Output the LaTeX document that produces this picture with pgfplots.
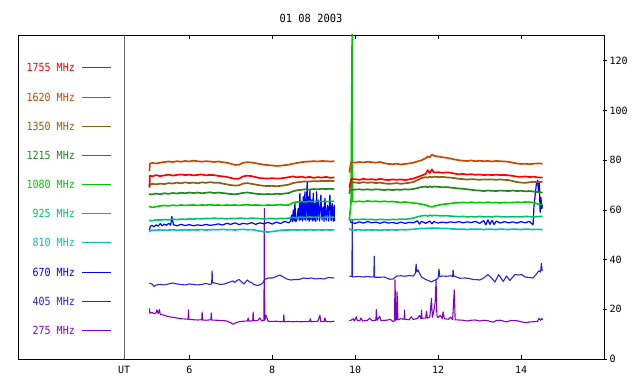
\documentclass[border=0pt]{standalone}
\usepackage{fontspec}
\setmainfont{DejaVu Sans Mono}
\usepackage{pgfplots}
\usepackage{pgfplotstable}
\pgfplotsset{compat=1.18}
\definecolor{c1755}{RGB}{255,0,0}
\definecolor{c1620}{RGB}{200,72,0}
\definecolor{c1350}{RGB}{136,96,16}
\definecolor{c1215}{RGB}{32,136,32}
\definecolor{c1080}{RGB}{0,200,0}
\definecolor{c925}{RGB}{0,192,112}
\definecolor{c810}{RGB}{0,192,192}
\definecolor{c670}{RGB}{0,0,255}
\definecolor{c405}{RGB}{40,40,200}
\definecolor{c275}{RGB}{128,0,200}
\definecolor{divg}{RGB}{100,100,100}

\pgfplotstableread{
t r o b dg g tl cy
5.04 69.0 75.5 69.5 66.0 61.0 55.5 51.0
5.05 73.8 78.6 70.2 66.4 61.4 55.8 51.6
5.1 73.5 78.9 70.5 66.2 61.0 55.6 51.9
5.2 74.0 78.7 70.3 66.6 61.3 56.0 51.8
5.3 73.6 79.0 70.6 66.3 61.6 55.9 52.0
5.4 73.9 79.3 70.4 66.7 61.8 56.1 51.8
5.5 74.2 79.5 70.8 66.5 61.6 56.0 51.9
5.6 73.8 79.3 70.6 66.8 61.9 56.3 52.0
5.7 74.1 79.6 71.0 66.6 61.7 56.1 51.8
5.8 74.3 79.4 70.7 66.9 62.0 56.3 51.9
5.9 74.0 79.7 71.1 66.7 61.8 56.2 52.0
6.0 74.2 79.5 70.8 67.0 61.9 56.4 51.9
6.1 73.9 79.8 71.0 66.8 62.0 56.3 52.0
6.2 74.1 79.6 70.7 67.0 61.8 56.5 51.9
6.3 74.3 79.4 71.1 66.7 62.0 56.4 52.1
6.4 73.9 79.6 70.9 66.9 61.9 56.6 51.9
6.5 74.1 79.5 71.2 67.1 62.1 56.5 52.0
6.6 74.0 79.3 70.9 66.8 61.9 56.7 52.1
6.7 73.7 79.5 71.0 67.0 62.0 56.5 52.0
6.8 73.5 79.2 70.6 66.8 61.8 56.6 52.2
6.9 73.3 79.0 70.3 66.6 62.0 56.4 52.0
7.0 72.9 78.6 70.0 66.4 61.9 56.6 52.1
7.1 72.5 78.1 69.8 66.3 62.0 56.5 51.9
7.2 72.6 78.2 69.9 66.5 61.8 56.7 52.1
7.3 73.5 79.0 70.6 66.9 62.0 56.6 52.2
7.4 73.8 79.2 70.8 67.0 62.1 56.5 52.0
7.5 73.6 79.1 70.5 66.8 61.9 56.7 52.1
7.6 73.2 78.8 70.2 66.5 62.0 56.6 51.8
7.7 72.8 78.5 69.9 66.4 61.9 56.5 51.5
7.8 72.7 78.2 69.7 66.3 61.8 56.4 51.2
7.9 72.6 78.0 69.6 66.4 62.0 56.5 51.1
8.0 72.8 77.9 69.7 66.3 61.9 56.6 51.3
8.1 72.6 77.7 69.5 66.5 62.0 56.4 51.5
8.2 72.7 77.8 69.7 66.4 62.1 56.6 51.8
8.3 72.9 78.0 69.9 66.6 61.9 56.5 51.9
8.4 73.2 78.2 70.2 66.8 62.0 56.7 51.9
8.5 73.5 78.6 70.8 67.5 62.9 57.0 52.0
8.6 73.1 78.9 71.1 67.9 63.2 56.8 51.9
8.7 73.4 79.2 71.3 68.1 63.4 57.1 52.0
8.8 73.0 79.4 71.5 68.3 63.2 56.9 51.9
8.9 73.3 79.5 71.4 68.2 63.5 57.2 52.0
9.0 72.9 79.6 71.6 68.4 63.3 57.0 51.9
9.1 73.2 79.5 71.5 68.3 63.5 57.1 52.0
9.2 73.0 79.7 71.7 68.5 63.4 56.9 51.9
9.3 73.3 79.6 71.6 68.4 63.3 57.1 52.0
9.4 72.9 79.5 71.7 68.5 63.5 57.0 51.9
9.5 73.1 79.6 71.6 68.3 63.4 57.1 52.0
9.7 nan nan nan nan nan nan nan
9.86 69.0 75.0 66.5 67.5 56.0 55.8 52.6
9.9 72.3 79.2 71.0 68.1 63.0 56.1 51.9
9.93 72.5 79.1 71.2 68.3 140 56.2 52.0
9.935 72.4 79.2 71.0 68.1 63.4 56.0 51.8
10.0 72.4 79.0 71.1 68.2 63.3 56.2 51.9
10.1 72.1 79.3 70.8 68.3 63.5 56.1 52.0
10.2 72.5 79.1 71.2 68.1 63.3 56.3 51.8
10.3 72.2 79.4 70.9 68.3 63.6 56.1 52.0
10.4 72.4 79.2 71.1 68.1 63.4 56.2 51.9
10.5 72.1 79.0 70.8 68.3 63.5 56.0 52.0
10.6 72.5 79.3 71.0 68.2 63.3 56.2 51.8
10.7 72.2 78.8 70.7 68.0 63.5 56.1 52.0
10.8 72.0 78.5 70.5 68.2 63.3 56.0 51.9
10.9 72.3 78.4 70.6 68.0 63.4 56.2 52.0
11.0 72.1 78.6 70.8 68.2 63.2 56.1 51.9
11.1 72.3 78.3 70.5 68.1 63.0 56.3 52.1
11.2 72.0 78.5 70.7 68.3 63.2 56.2 52.0
11.3 72.3 78.7 70.9 68.2 63.0 56.4 52.1
11.4 72.6 79.0 71.2 68.4 62.8 56.7 52.2
11.5 73.2 79.5 72.0 68.8 62.6 57.2 52.4
11.6 73.8 80.0 72.8 69.2 62.3 57.6 52.6
11.7 74.5 80.8 73.2 69.4 62.0 57.8 52.5
11.75 76.0 81.5 73.0 69.1 61.6 57.5 52.7
11.8 74.8 81.2 73.4 69.5 61.4 57.9 52.5
11.85 76.3 82.3 73.1 69.2 61.2 57.6 52.8
11.9 75.0 81.8 73.4 69.4 61.5 57.8 52.6
12.0 75.2 81.5 73.2 69.3 61.9 57.7 52.7
12.1 74.9 81.2 73.3 69.1 62.2 57.6 52.5
12.2 75.1 81.0 73.1 69.2 62.4 57.7 52.6
12.3 75.0 80.7 73.0 69.0 62.6 57.5 52.4
12.4 74.6 80.3 72.8 68.8 62.8 57.4 52.3
12.5 74.3 80.0 72.5 68.6 62.9 57.3 52.2
12.6 74.5 79.8 72.4 68.5 63.0 57.4 52.3
12.7 74.2 79.7 72.2 68.3 62.9 57.2 52.1
12.8 74.4 79.9 72.4 68.1 63.1 57.3 52.3
12.9 74.1 79.6 72.3 67.9 62.9 57.2 52.2
13.0 74.3 79.8 72.1 67.8 63.0 57.4 52.3
13.1 74.0 79.6 72.3 67.6 62.9 57.2 52.1
13.2 74.2 79.7 72.2 67.8 63.1 57.3 52.3
13.3 74.0 79.5 72.3 67.7 62.9 57.2 52.2
13.4 74.2 79.7 72.1 67.6 63.0 57.4 52.1
13.5 74.0 79.6 72.3 67.8 62.8 57.3 52.3
13.6 74.1 79.5 72.1 67.7 63.0 57.2 52.2
13.7 73.9 79.4 72.0 67.6 62.9 57.3 52.1
13.8 73.7 79.0 71.6 67.8 63.0 57.2 52.3
13.9 73.4 78.7 71.2 67.6 63.1 57.3 52.2
14.0 73.3 78.5 71.0 67.7 63.0 57.2 52.1
14.1 73.5 78.6 70.9 67.5 63.2 57.4 52.3
14.2 73.2 78.4 71.1 67.6 63.1 57.3 52.2
14.3 73.4 78.6 71.3 67.4 63.0 57.2 52.1
14.4 73.1 78.7 71.2 67.2 62.4 57.3 52.2
14.52 73.0 78.6 71.3 67.0 62.0 57.4 52.1
}\upper

\pgfplotstableread{
t v
5.04 52.0
5.06 53.4
5.1 53.8
5.15 53.2
5.2 54.0
5.25 53.5
5.3 54.5
5.35 53.6
5.4 54.3
5.45 53.8
5.5 54.6
5.55 53.9
5.58 57.3
5.62 54.0
5.7 53.6
5.8 54.2
5.9 53.7
6.0 54.1
6.1 53.6
6.2 54.0
6.3 53.7
6.4 54.2
6.5 53.8
6.6 54.0
6.7 54.4
6.8 53.9
6.9 54.6
7.0 54.2
7.1 54.8
7.2 54.1
7.3 54.6
7.4 54.3
7.5 54.9
7.6 54.2
7.7 54.8
7.8 54.4
7.9 55.0
8.0 54.3
8.1 55.1
8.2 54.5
8.3 55.4
8.4 54.8
8.44 55.5
8.466 57.9
8.49 55.3
8.507 60.0
8.53 55.6
8.547 62.6
8.57 55.2
8.6 56.5
8.627 60.6
8.65 55.8
8.667 66.7
8.69 56.0
8.707 63.3
8.73 55.5
8.748 65.3
8.77 56.2
8.788 67.3
8.81 55.8
8.844 71.4
8.855 56.0
8.868 65.3
8.89 55.4
8.908 68.0
8.93 56.1
8.948 64.0
8.97 55.6
8.989 66.7
9.01 55.8
9.029 62.6
9.05 55.3
9.069 67.3
9.09 56.0
9.109 64.0
9.14 55.5
9.173 66.0
9.2 55.9
9.23 61.3
9.25 55.4
9.27 64.6
9.3 55.8
9.334 61.9
9.36 55.5
9.39 66.0
9.42 55.7
9.446 62.6
9.47 55.4
9.494 61.9
9.5 55.6
9.7 nan
9.86 56.5
9.9 55.0
10.0 54.6
10.1 55.2
10.2 54.7
10.3 55.3
10.4 54.8
10.5 55.1
10.6 54.6
10.7 55.2
10.8 54.7
10.9 55.0
11.0 54.5
11.1 55.1
11.2 54.6
11.3 55.0
11.4 54.8
11.5 55.6
11.55 54.3
11.6 55.4
11.7 54.6
11.8 55.5
11.85 54.4
11.9 55.3
12.0 54.7
12.1 55.1
12.2 54.8
12.3 55.2
12.4 54.9
12.5 55.3
12.6 54.8
12.7 55.2
12.8 54.9
12.9 55.4
13.0 54.6
13.1 55.7
13.15 54.0
13.2 56.0
13.25 54.2
13.3 55.8
13.35 54.1
13.4 55.5
13.5 54.7
13.6 55.3
13.7 54.8
13.8 55.2
13.9 54.7
14.0 55.3
14.1 54.8
14.2 55.4
14.25 54.6
14.29 54.0
14.31 61.3
14.34 66.0
14.37 70.5
14.4 72.0
14.42 67.5
14.44 70.8
14.46 59.0
14.48 65.0
14.5 60.5
14.52 62.0
}\sixseventy

\pgfplotstableread{
t v
5.04 30.5
5.1 30.2
5.15 29.2
5.2 29.8
5.3 30.0
5.4 29.8
5.5 30.2
5.6 30.6
5.7 30.2
5.8 30.0
5.9 29.8
6.0 30.2
6.1 30.0
6.2 29.8
6.3 30.0
6.4 30.4
6.5 30.0
6.54 30.3
6.55 35.5
6.56 30.8
6.65 30.4
6.75 30.0
6.85 30.2
6.95 30.8
7.05 31.4
7.1 30.8
7.15 31.6
7.2 32.0
7.25 31.2
7.32 30.2
7.4 31.8
7.45 31.0
7.5 30.8
7.55 30.0
7.65 29.6
7.72 30.0
7.78 30.8
7.82 32.0
7.9 32.6
8.0 32.6
8.1 33.2
8.18 33.8
8.25 33.2
8.35 32.2
8.45 31.8
8.55 32.0
8.65 32.0
8.75 32.6
8.85 32.4
8.95 32.6
9.05 32.2
9.15 32.4
9.25 32.2
9.35 32.8
9.5 32.6
9.7 nan
9.86 33.4
9.92 33.2
9.93 56.0
9.94 33.0
10.0 33.1
10.1 33.2
10.2 33.0
10.3 33.2
10.4 33.0
10.45 33.1
10.46 41.4
10.47 32.9
10.6 32.9
10.7 33.0
10.84 32.1
10.92 32.2
11.0 33.4
11.1 33.5
11.2 33.3
11.3 33.6
11.4 33.4
11.45 34.5
11.47 38.2
11.49 35.0
11.52 35.8
11.56 34.2
11.6 33.0
11.7 32.0
11.8 31.3
11.84 31.0
11.9 31.6
11.96 32.0
12.0 32.6
12.02 36.2
12.04 33.2
12.1 33.4
12.2 33.3
12.3 33.5
12.35 33.2
12.36 35.8
12.38 33.3
12.45 33.0
12.52 32.5
12.65 32.6
12.75 32.4
12.84 32.0
12.95 31.9
13.0 31.8
13.1 32.6
13.2 34.0
13.3 32.4
13.37 31.0
13.46 34.0
13.57 31.2
13.65 33.4
13.73 31.6
13.8 33.0
13.85 34.0
13.95 33.8
14.01 34.0
14.1 33.0
14.2 32.8
14.29 32.6
14.37 34.2
14.43 35.5
14.47 35.0
14.49 38.5
14.51 35.5
}\fourohfive

\pgfplotstableread{
t v
5.04 20.4
5.05 18.4
5.1 18.8
5.15 18.2
5.2 18.6
5.22 19.8
5.25 18.3
5.28 19.9
5.3 18.0
5.4 17.6
5.5 17.0
5.6 16.8
5.7 16.5
5.8 16.2
5.9 16.1
5.97 16.0
5.98 19.8
5.99 16.0
6.1 15.8
6.2 15.7
6.3 15.8
6.31 18.9
6.32 15.7
6.4 15.6
6.52 15.8
6.53 18.5
6.54 15.7
6.65 15.6
6.8 15.5
6.9 15.3
7.0 14.6
7.06 14.0
7.12 14.6
7.2 15.0
7.3 15.2
7.4 15.3
7.42 16.5
7.44 15.2
7.53 15.4
7.54 18.9
7.55 15.4
7.65 15.5
7.7 16.5
7.75 15.3
7.8 15.6
7.81 60.6
7.82 15.6
7.85 17.6
7.9 15.2
8.0 15.1
8.1 15.2
8.2 15.0
8.27 15.1
8.28 17.8
8.29 15.0
8.4 15.1
8.5 15.0
8.6 15.1
8.7 15.0
8.9 15.1
8.92 16.2
8.94 15.0
9.1 15.2
9.15 17.6
9.17 15.1
9.25 15.0
9.27 16.5
9.29 15.1
9.4 15.0
9.5 15.2
9.7 nan
9.86 15.4
9.9 15.6
9.95 16.2
9.98 15.3
10.03 17.0
10.05 15.4
10.12 15.6
10.14 16.5
10.18 15.3
10.3 15.6
10.35 16.4
10.4 15.5
10.5 15.6
10.51 19.9
10.53 15.6
10.59 17.2
10.62 15.5
10.75 15.6
10.85 15.9
10.92 15.0
10.95 15.5
10.96 31.8
10.98 15.6
11.0 16.0
11.01 27.1
11.03 15.8
11.1 16.2
11.18 16.0
11.19 19.7
11.2 16.0
11.3 15.8
11.35 17.0
11.4 15.9
11.5 16.3
11.55 17.5
11.59 16.2
11.6 19.7
11.61 16.4
11.7 16.5
11.72 19.2
11.74 16.4
11.8 17.0
11.84 24.4
11.86 16.8
11.9 19.5
11.93 23.0
11.95 31.8
11.97 17.5
12.0 16.6
12.05 17.6
12.1 16.3
12.12 19.0
12.15 16.2
12.25 16.0
12.3 16.8
12.35 15.9
12.39 27.8
12.41 15.8
12.5 15.7
12.6 15.6
12.7 15.3
12.8 15.6
12.9 15.7
13.0 15.3
13.1 15.6
13.2 15.4
13.33 14.8
13.4 15.5
13.5 15.6
13.65 14.9
13.75 15.5
13.9 15.4
14.0 15.0
14.13 14.6
14.2 14.9
14.3 15.0
14.4 15.2
14.43 16.3
14.47 15.6
14.5 16.3
14.52 15.8
}\twoseventyfive

\begin{document}
\begin{tikzpicture}[x=1bp,y=1bp,font=\fontsize{10bp}{12bp}\selectfont]
\path[use as bounding box] (0,0) rectangle (640,384);
\begin{axis}[
  at={(18bp,25bp)}, anchor=south west,
  scale only axis, width=586bp, height=324bp,
  xmin=1.87, xmax=16, ymin=0, ymax=130.4,
  axis line style={line width=0.8bp},
  unbounded coords=jump,
  xtick={6,8,10,12,14},
  ytick={0,20,40,60,80,100,120},
  xtick pos=both, ytick pos=right, yticklabel pos=right,
  tick align=inside, major tick length=4.5bp,
  ytick style={xshift=3bp},
  minor tick num=0,
  tick style={line width=0.8bp, black},
  /pgf/number format/assume math mode=true,
  tick label style={font=\fontsize{10bp}{12bp}\selectfont},
  xticklabel style={yshift=-4bp},
  yticklabel style={xshift=2bp},
  extra x ticks={4.43}, extra x tick labels={UT},
  extra x tick style={major tick length=0pt},
  every axis plot/.append style={line join=round},
]
\addplot[divg, line width=0.8bp] coordinates {(4.43,0) (4.43,130.4)};
\addplot[c275, line width=1.1bp] table[x=t,y=v] {\twoseventyfive};
\addplot[c405, line width=1.1bp] table[x=t,y=v] {\fourohfive};
\addplot[c670, line width=1.2bp] table[x=t,y=v] {\sixseventy};
\addplot[c810, line width=1.6bp] table[x=t,y=cy] {\upper};
\addplot[c925, line width=1.6bp] table[x=t,y=tl] {\upper};
\addplot[c1080, line width=1.6bp] table[x=t,y=g] {\upper};
\addplot[c1215, line width=1.7bp] table[x=t,y=dg] {\upper};
\addplot[c1350, line width=1.7bp] table[x=t,y=b] {\upper};
\addplot[c1620, line width=1.7bp] table[x=t,y=o] {\upper};
\addplot[c1755, line width=1.7bp] table[x=t,y=r] {\upper};
\end{axis}
\node at (311,366) {\scalebox{1.04}[1.12]{01 08 2003}};
\foreach \lab/\col/\yy in {1755/c1755/67.3, 1620/c1620/97.3, 1350/c1350/126.3, 1215/c1215/155.3, 1080/c1080/184.3, 925/c925/213.3, 810/c810/242.3, 670/c670/272, 405/c405/301.3, 275/c275/330.3}{
  \node[anchor=east, text=\col, inner sep=0pt] at (75,384-\yy) {\scalebox{1}[1.12]{\lab\ MHz}};
  \draw[\col, line width=1bp] (82,384-\yy) -- (110.7,384-\yy);
}
\end{tikzpicture}
\end{document}
